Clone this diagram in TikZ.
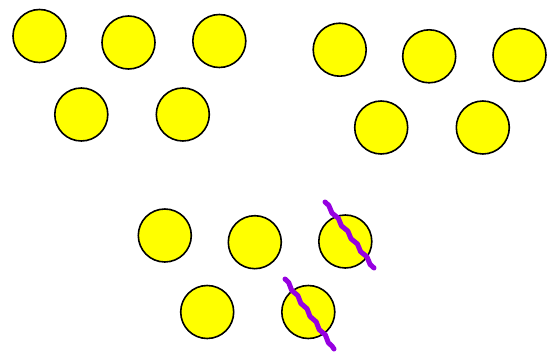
\documentclass[tikz,border=0pt]{standalone}
\usetikzlibrary{decorations.pathmorphing}
\definecolor{ballyellow}{RGB}{255,255,0}
\definecolor{strikepurple}{RGB}{150,0,225}
\tikzset{
  ball/.style={circle, draw=black, line width=1.6pt, fill=ballyellow, minimum size=53pt, inner sep=0pt},
  strike/.style={draw=strikepurple, line width=5pt, line cap=round, line join=round,
    decorate, decoration={snake, segment length=16pt, amplitude=1pt}}
}
\begin{document}
\begin{tikzpicture}[x=1pt,y=-1pt]
\useasboundingbox (0,0) rectangle (549,353);
% group 1
\node[ball] (a1) at (39.5,36) {};
\node[ball] (a2) at (128.5,42.5) {};
\node[ball] (a3) at (219.3,41) {};
\node[ball] (a4) at (81.3,114.5) {};
\node[ball] (a5) at (182.8,114.5) {};
% group 2
\node[ball] (b1) at (339.7,49.7) {};
\node[ball] (b2) at (429.2,56.3) {};
\node[ball] (b3) at (519.5,55) {};
\node[ball] (b4) at (381.2,127.5) {};
\node[ball] (b5) at (482.8,127.5) {};
% group 3
\node[ball] (c1) at (164.8,235.5) {};
\node[ball] (c2) at (254.8,242.2) {};
\node[ball] (c3) at (345.3,241.5) {};
\node[ball] (c4) at (207.2,312) {};
\node[ball] (c5) at (308.3,312) {};
% strikes
\coordinate (s1a) at (325,202);
\coordinate (s1b) at (374,268);
\coordinate (s2a) at (285,279);
\coordinate (s2b) at (334,349);
\path[strike] (s1a) -- (s1b);
\path[strike] (s2a) -- (s2b);
\end{tikzpicture}
\end{document}
